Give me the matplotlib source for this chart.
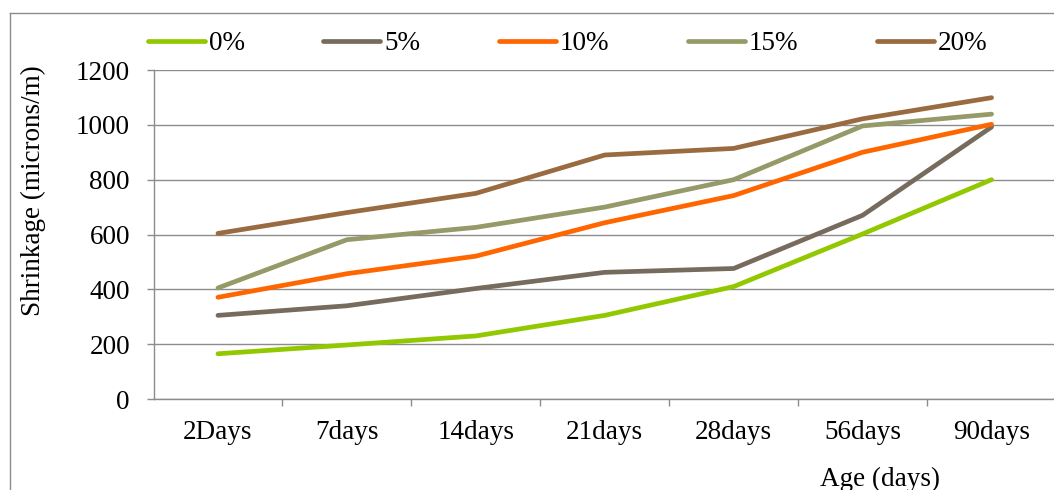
import matplotlib.pyplot as plt
from matplotlib.lines import Line2D

plt.rcParams['font.family'] = ['Liberation Serif', 'DejaVu Serif']

ages = ['2Days', '7days', '14days', '21days', '28days', '56days', '90days']
series_names = ['0%', '5%', '10%', '15%', '20%']
s0 = [165, 197, 230, 305, 410, 602, 800]
s5 = [305, 340, 403, 462, 476, 670, 992]
s10 = [371, 457, 521, 643, 742, 900, 1002]
s15 = [405, 581, 626, 700, 800, 996, 1039]
s20 = [604, 680, 750, 890, 914, 1022, 1099]
colors = ['#92C800', '#776B5D', '#FF6600', '#959A68', '#9A6A40']

fig = plt.figure(figsize=(10.54, 4.9), dpi=100)
W, H = 1054, 490
ax = fig.add_axes([153.5 / W, 1 - 399 / H, (1056 - 153.5) / W, (399 - 70) / H])

x = range(len(ages))
for vals, name, c in zip([s0, s5, s10, s15, s20], series_names, colors):
    ax.plot(x, vals, color=c, lw=3.4, solid_capstyle='round', solid_joinstyle='round', label=name)

ax.set_xlim(-0.5, len(ages) - 0.5)
ax.set_ylim(0, 1200)
ax.set_yticks(range(0, 1201, 200))
ax.set_xticks(list(x))
ax.set_xticklabels(ages)
ax.set_xticks([i - 0.5 for i in range(1, len(ages) + 1)], minor=True)

fs = 19.5
gray = '#8C8C8C'
ax.grid(axis='y', color=gray, lw=1.0)
ax.set_axisbelow(True)
for side in ['top', 'right']:
    ax.spines[side].set_visible(False)
for side in ['left', 'bottom']:
    ax.spines[side].set_color(gray)
    ax.spines[side].set_linewidth(1.0)
ax.tick_params(axis='y', length=5, width=1.0, color=gray, labelsize=fs, pad=12)
ax.tick_params(axis='x', which='major', length=0, labelsize=fs, pad=15)
ax.tick_params(axis='x', which='minor', length=5, width=1.0, color=gray)

fig.text(33 / W, 1 - 191 / H, 'Shrinkage (microns/m)', rotation=90,
         ha='center', va='center', fontsize=fs)
fig.text(880 / W, 1 - 486 / H, 'Age (days)', ha='center', va='baseline', fontsize=fs)

ax.legend(loc='center left', bbox_to_anchor=(148 / W, 1 - 44 / H),
          bbox_transform=fig.transFigure, ncol=5, frameon=False,
          fontsize=fs, handlelength=2.1, handletextpad=0.15,
          columnspacing=2.9, borderpad=0, borderaxespad=0)

# outer chart frame (left and top edges visible)
fig.add_artist(Line2D([9.5 / W, 9.5 / W], [0, 1 - 12.7 / H], color=gray, lw=1.0))
fig.add_artist(Line2D([9.5 / W, 1], [1 - 12.7 / H, 1 - 12.7 / H], color=gray, lw=1.0))

fig.savefig('out.png', dpi=100)
